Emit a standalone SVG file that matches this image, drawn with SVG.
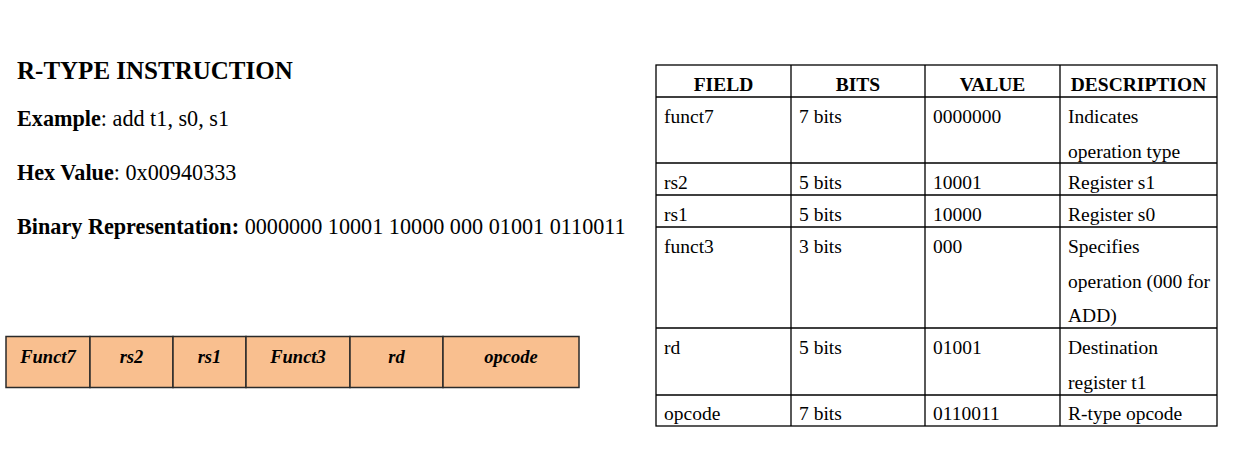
<svg xmlns="http://www.w3.org/2000/svg" width="1233" height="459" viewBox="0 0 1233 459">
<style>
  text { fill: #000; }
  .title { font-size: 25px; font-weight: bold; }
  .info { font-size: 22.2px; }
  .b { font-weight: bold; }
  .fld { font-size: 18.5px; font-weight: bold; font-style: italic; text-anchor: middle; }
  .cell { fill: #F9BF8F; stroke: #2a2a2a; stroke-width: 1.5; }
  .th { font-size: 19.5px; font-weight: bold; text-anchor: middle; }
  .td { font-size: 19.5px; }
  .grid { stroke: #000; stroke-width: 1.3; fill: none; }
</style>
<rect width="1233" height="459" fill="#fff"/>

<g font-family="'Liberation Serif', 'Times New Roman', 'DejaVu Serif', serif">
<g id="info">
  <text class="title" x="17" y="79">R-TYPE INSTRUCTION</text>
  <text class="info" x="17" y="126"><tspan class="b">Example</tspan>: add t1, s0, s1</text>
  <text class="info" x="17" y="180"><tspan class="b">Hex Value</tspan>: 0x00940333</text>
  <text class="info" x="17" y="234"><tspan class="b">Binary Representation:</tspan> 0000000 10001 10000 000 01001 0110011</text>
</g>

<g id="format">
  <g id="f-funct7"><rect class="cell" x="6" y="336.5" width="84" height="51"/><text class="fld" x="48" y="363">Funct7</text></g>
  <g id="f-rs2"><rect class="cell" x="90" y="336.5" width="83" height="51"/><text class="fld" x="131.5" y="363">rs2</text></g>
  <g id="f-rs1"><rect class="cell" x="173" y="336.5" width="73" height="51"/><text class="fld" x="209.5" y="363">rs1</text></g>
  <g id="f-funct3"><rect class="cell" x="246" y="336.5" width="104" height="51"/><text class="fld" x="298" y="363">Funct3</text></g>
  <g id="f-rd"><rect class="cell" x="350" y="336.5" width="93" height="51"/><text class="fld" x="396.5" y="363">rd</text></g>
  <g id="f-opcode"><rect class="cell" x="443" y="336.5" width="136" height="51"/><text class="fld" x="511" y="363">opcode</text></g>
</g>

<g id="table">
  <rect class="grid" x="656" y="65" width="561" height="361"/>
  <path class="grid" d="M791 65V426M925 65V426M1060 65V426M656 97H1217M656 163H1217M656 195H1217M656 227H1217M656 328H1217M656 395H1217"/>
  <text class="th" x="723.5" y="91">FIELD</text>
  <text class="th" x="858" y="91">BITS</text>
  <text class="th" x="992.5" y="91">VALUE</text>
  <text class="th" x="1138.5" y="91">DESCRIPTION</text>

  <text class="td" x="664" y="123">funct7</text>
  <text class="td" x="799" y="123">7 bits</text>
  <text class="td" x="933" y="123">0000000</text>
  <text class="td" x="1068" y="123">Indicates</text>
  <text class="td" x="1068" y="157.5">operation type</text>

  <text class="td" x="664" y="189">rs2</text>
  <text class="td" x="799" y="189">5 bits</text>
  <text class="td" x="933" y="189">10001</text>
  <text class="td" x="1068" y="189">Register s1</text>

  <text class="td" x="664" y="221">rs1</text>
  <text class="td" x="799" y="221">5 bits</text>
  <text class="td" x="933" y="221">10000</text>
  <text class="td" x="1068" y="221">Register s0</text>

  <text class="td" x="664" y="253">funct3</text>
  <text class="td" x="799" y="253">3 bits</text>
  <text class="td" x="933" y="253">000</text>
  <text class="td" x="1068" y="253">Specifies</text>
  <text class="td" x="1068" y="287.5">operation (000 for</text>
  <text class="td" x="1068" y="322">ADD)</text>

  <text class="td" x="664" y="354">rd</text>
  <text class="td" x="799" y="354">5 bits</text>
  <text class="td" x="933" y="354">01001</text>
  <text class="td" x="1068" y="354">Destination</text>
  <text class="td" x="1068" y="388.5">register t1</text>

  <text class="td" x="664" y="420">opcode</text>
  <text class="td" x="799" y="420">7 bits</text>
  <text class="td" x="933" y="420">0110011</text>
  <text class="td" x="1068" y="420">R-type opcode</text>
</g>
</g>
</svg>
